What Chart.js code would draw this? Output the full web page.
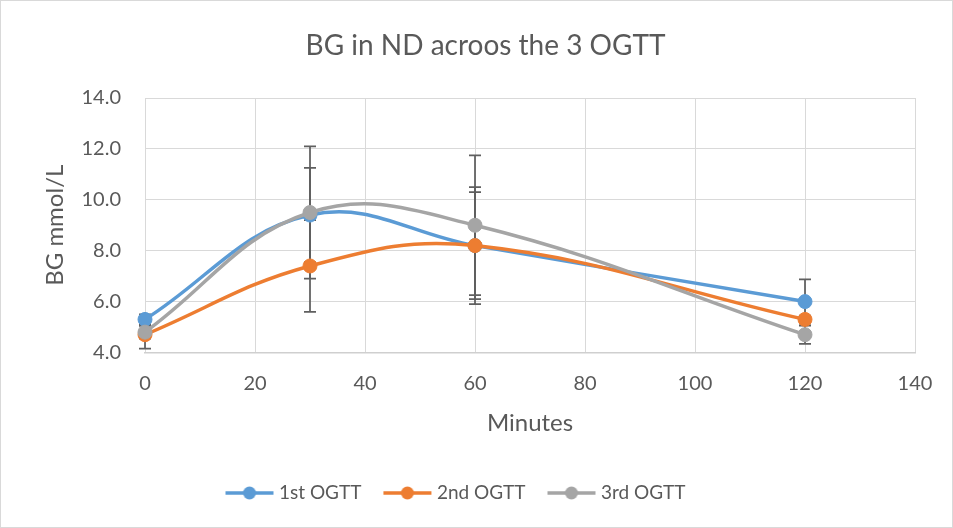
<!DOCTYPE html>
<html>
<head>
<meta charset="utf-8">
<script src="https://cdn.jsdelivr.net/npm/chart.js@4/dist/chart.umd.min.js"></script>
<style>
  html, body { margin: 0; padding: 0; background: #ffffff; }
  #wrap { width: 953px; height: 528px; position: relative; }
</style>
</head>
<body>
<div id="wrap"><canvas id="c" width="953" height="528"></canvas></div>
<script>
// ---- data ----
const minutes = [0, 30, 60, 120];
const seriesNames = ['1st OGTT', '2nd OGTT', '3rd OGTT'];
const bg1 = [5.3, 9.4, 8.2, 6.0];
const bg2 = [4.7, 7.4, 8.2, 5.3];
const bg3 = [4.8, 9.5, 9.0, 4.7];
const err1 = [0.2, 1.85, 2.3, 0.87];
const err2 = [0.55, 1.8, 2.1, 0.15];
const err3 = [0.25, 2.6, 2.75, 0.36];
const xTickMin = 0, xTickMax = 140, xTickStep = 20;
const yTickMin = 4, yTickMax = 14, yTickStep = 2;
const chartTitle = 'BG in ND acroos the 3 OGTT';
const xTitle = 'Minutes';
const yTitle = 'BG mmol/L';

const colors = ['#5B9BD5', '#ED7D31', '#A5A5A5'];
const textColor = '#595959';
const gridColor = '#d9d9d9';
const FONT = 'Lato, "Open Sans", sans-serif';

const values = [bg1, bg2, bg3];
const errors = [err1, err2, err3];

function legendImage(color) {
  const cv = document.createElement('canvas');
  cv.width = 50; cv.height = 16;
  const g = cv.getContext('2d');
  g.strokeStyle = color; g.lineWidth = 3.5; g.lineCap = 'butt';
  g.beginPath(); g.moveTo(1, 8); g.lineTo(49, 8); g.stroke();
  g.fillStyle = color;
  g.beginPath(); g.arc(25, 8, 6.5, 0, Math.PI * 2); g.fill();
  return cv;
}
const legendImgs = colors.map(legendImage);

const datasets = values.map((vals, s) => ({
  label: seriesNames[s],
  data: minutes.map((m, i) => ({ x: m, y: vals[i] })),
  borderColor: colors[s],
  backgroundColor: colors[s],
  pointBackgroundColor: colors[s],
  pointBorderColor: colors[s],
  borderWidth: 3.5,
  pointRadius: 7,
  pointBorderWidth: 1,
  tension: 0.4,
  clip: false,
  order: 3 - s,
  errors: errors[s]
}));

const errorBars = {
  id: 'errorBars',
  beforeDatasetsDraw(chart) {
    const ctx = chart.ctx;
    const xs = chart.scales.x, ys = chart.scales.y;
    ctx.save();
    ctx.strokeStyle = '#5f5f5f';
    ctx.lineWidth = 1.75;
    chart.data.datasets.forEach((ds) => {
      ds.data.forEach((pt, i) => {
        const e = ds.errors[i];
        const px = xs.getPixelForValue(pt.x);
        const top = ys.getPixelForValue(pt.y + e);
        const bot = ys.getPixelForValue(pt.y - e);
        ctx.beginPath();
        ctx.moveTo(px, top); ctx.lineTo(px, bot);
        ctx.moveTo(px - 6, top); ctx.lineTo(px + 6, top);
        ctx.moveTo(px - 6, bot); ctx.lineTo(px + 6, bot);
        ctx.stroke();
      });
    });
    ctx.restore();
  }
};

const frame = {
  id: 'frame',
  afterLayout(chart) {
    if (chart.titleBlock) { chart.titleBlock.left = 56; }
  },
  afterDraw(chart) {
    const ctx = chart.ctx;
    ctx.save();
    ctx.strokeStyle = '#d9d9d9';
    ctx.lineWidth = 1;
    ctx.strokeRect(0.5, 0.5, chart.width - 1, chart.height - 1);
    ctx.restore();
  }
};

new Chart(document.getElementById('c'), {
  type: 'line',
  data: { datasets },
  plugins: [errorBars, frame],
  options: {
    responsive: false,
    animation: false,
    devicePixelRatio: 1,
    layout: { padding: { left: 0, right: 38, top: 0, bottom: 15.5 } },
    plugins: {
      title: {
        display: true,
        text: chartTitle,
        color: textColor,
        font: { family: FONT, size: 28, weight: 'normal' },
        padding: { top: 29, bottom: 35.4 }
      },
      legend: {
        display: true,
        position: 'bottom',
        labels: {
          color: textColor,
          font: { family: FONT, size: 19 },
          usePointStyle: true,
          pointStyleWidth: 40,
          padding: 26,
          generateLabels(chart) {
            return chart.data.datasets.map((ds, i) => ({
              text: ds.label,
              pointStyle: legendImgs[i],
              fillStyle: colors[i],
              strokeStyle: colors[i],
              lineWidth: 0,
              fontColor: textColor,
              hidden: false,
              datasetIndex: i
            }));
          }
        }
      },
      tooltip: { enabled: false }
    },
    scales: {
      x: {
        type: 'linear',
        min: xTickMin, max: xTickMax,
        afterFit(scale) { scale.height = 105; },
        ticks: {
          stepSize: xTickStep,
          color: textColor,
          font: { family: FONT, size: 20 },
          padding: 19,
          maxRotation: 0
        },
        grid: { color: gridColor, lineWidth: 1, drawTicks: false },
        border: { display: true, color: '#cfcfcf', width: 1.5 },
        title: {
          display: true, text: xTitle, color: textColor,
          font: { family: FONT, size: 24 },
          padding: { top: 0, bottom: 19.6 }
        }
      },
      y: {
        type: 'linear',
        min: yTickMin, max: yTickMax,
        afterFit(scale) { scale.width = 145; },
        ticks: {
          stepSize: yTickStep,
          color: textColor,
          font: { family: FONT, size: 20 },
          padding: 24,
          callback: (v) => Number(v).toFixed(1)
        },
        grid: { color: gridColor, lineWidth: 1, drawTicks: false },
        border: { display: false },
        title: {
          display: true, text: yTitle, color: textColor,
          font: { family: FONT, size: 24 },
          padding: { top: 40.6, bottom: 0 }
        }
      }
    }
  }
});
</script>
</body>
</html>
